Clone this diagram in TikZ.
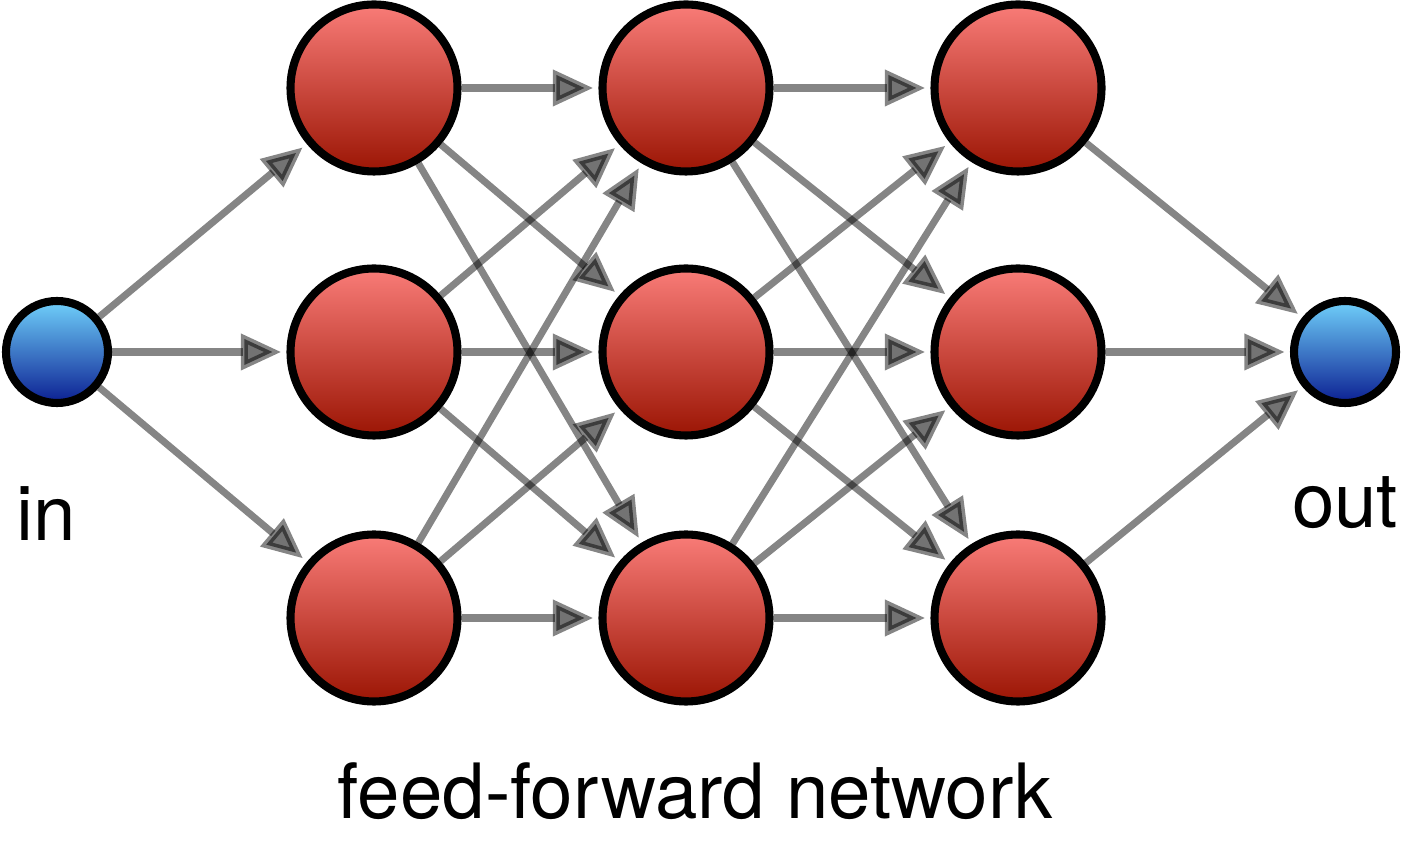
\documentclass[tikz,border=0pt]{standalone}
\usepackage{fontspec}
\setmainfont{TeX Gyre Heros}
\usepackage{tikz}
\usetikzlibrary{arrows.meta}

\definecolor{hidtop}{RGB}{249,124,120}
\definecolor{hidbot}{RGB}{155,21,4}
\definecolor{iotop}{RGB}{112,208,250}
\definecolor{iobot}{RGB}{11,31,146}

\begin{document}
\begin{tikzpicture}[
    neuron/.style={circle, draw=black, line width=2.3pt, minimum size=1.67cm, top color=hidtop, bottom color=hidbot},
    port/.style={circle, draw=black, line width=2.3pt, minimum size=1.02cm, top color=iotop, bottom color=iobot},
    link/.style={line width=2pt, draw=black, draw opacity=0.48, fill opacity=0.55, shorten >=1.5pt, -{Triangle[fill=black, length=11.5pt, width=10pt]}},
    caption/.style={anchor=base, font=\fontsize{21.7}{26}\selectfont}
]
    \useasboundingbox (0,0) rectangle (14.12,8.49);

    % Draw the input and output
    \node[port] (in) at (0.57,4.97) {};
    \node[port] (out) at (13.45,4.97) {};

    % Draw the three hidden layers
    \foreach \l/\x in {a/3.74, b/6.86, c/10.18} {
        \foreach \i/\y in {1/7.61, 2/4.97, 3/2.31} {
            \node[neuron] (\l\i) at (\x,\y) {};
        }
    }

    % Draw the connections
    \foreach \i in {1,2,3} {
        \draw[link] (in) -- (a\i);
        \draw[link] (c\i) -- (out);
        \foreach \j in {1,2,3} {
            \draw[link] (a\i) -- (b\j);
            \draw[link] (b\i) -- (c\j);
        }
    }

    % Add the labels
    \node[caption] (inlabel) at (0.46,3.08) {in};
    \node[caption] (outlabel) at (13.45,3.21) {out};
    \node[caption] (title) at (6.95,0.31) {feed-forward network};
\end{tikzpicture}
\end{document}
